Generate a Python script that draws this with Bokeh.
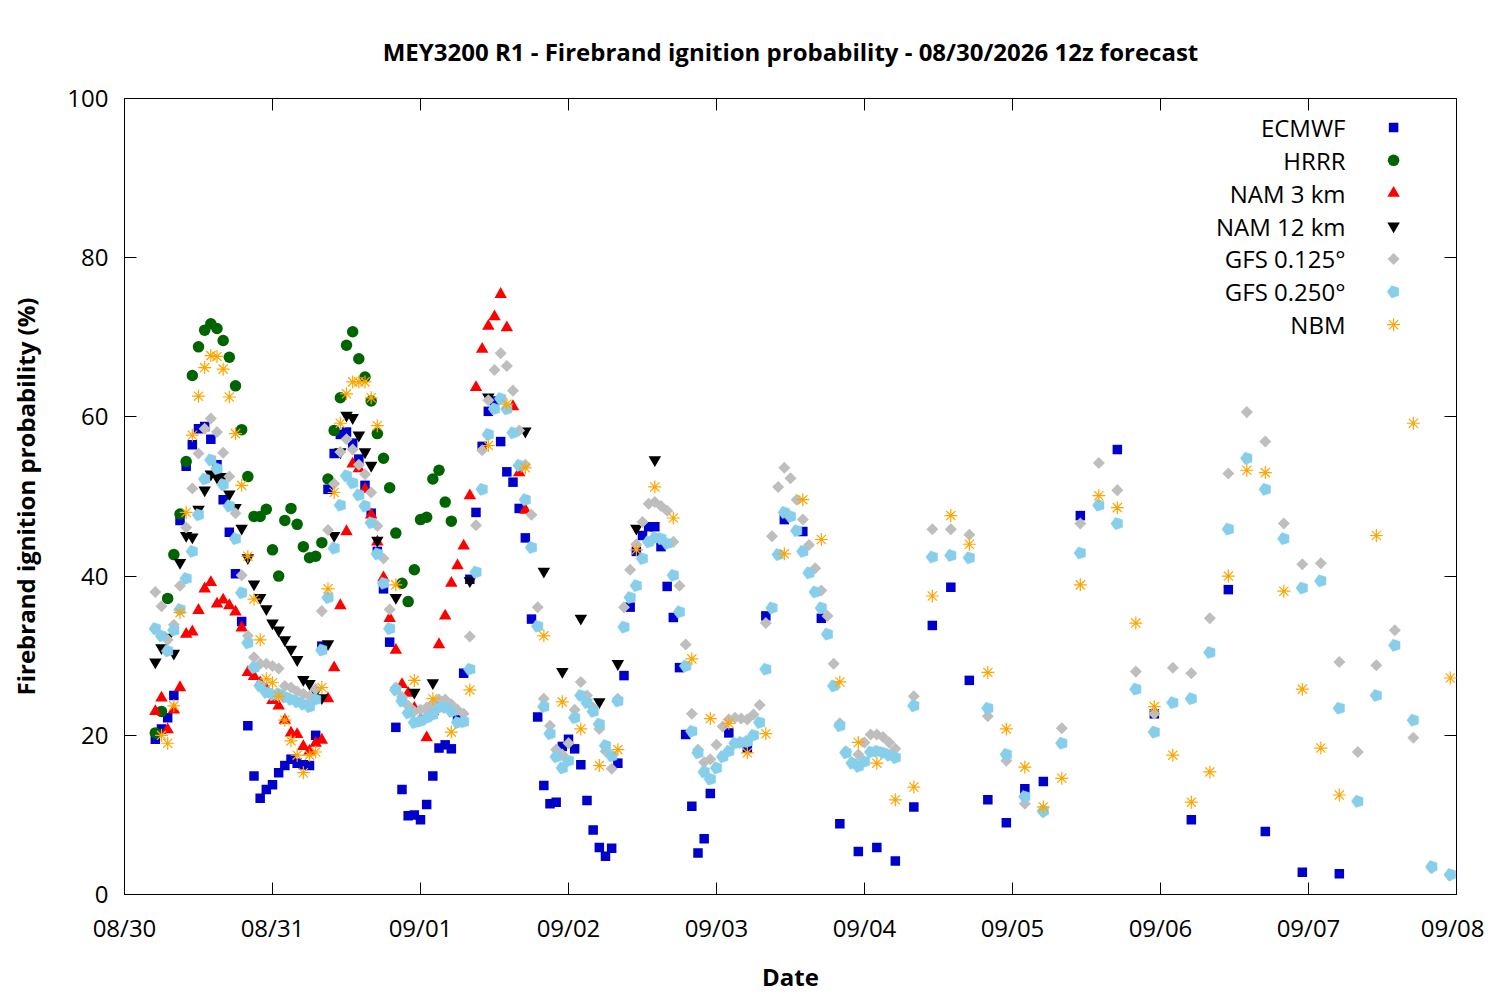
import numpy as np
from bokeh.plotting import figure
from bokeh.models import Range1d, FixedTicker, LinearAxis
from bokeh.core.properties import value
from bokeh.embed import file_html
from bokeh.resources import INLINE

# ---------------- data (x = hours after 08/30 00:00 local) ----------------
day_ticks = [0, 24, 48, 72, 96, 120, 144, 168, 192, 216]
day_labels = ["08/30", "08/31", "09/01", "09/02", "09/03", "09/04", "09/05", "09/06", "09/07", "09/08"]
y_ticks = [0, 20, 40, 60, 80, 100]

# ECMWF: hourly h5..h95, 3-hourly h98..h149, 6-hourly h155..h197
ecmwf_hours = list(range(5, 96)) + list(range(98, 150, 3)) + list(range(155, 198, 6))
ecmwf_vals = [19.5, 20.8, 22.2, 25, 47, 53.8, 56.5, 58.5, 58.8, 57.2, 54, 49.6, 45.5, 40.3, 34.3, 21.2, 14.9, 12.1, 13.2, 13.8,
              15.3, 16.2, 17, 16.5, 16.3, 16.2, 20, 31.2, 50.9, 55.4, 57.8, 58.1, 56.7, 54.7, 51.4, 47.9, 43.1, 38.4, 31.7, 21,
              13.2, 9.9, 10, 9.4, 11.3, 14.9, 18.4, 18.8, 18.3, 22, 27.8, 39.6, 48, 56.3, 60.7, 62, 56.9, 53.1, 51.8, 48.5,
              44.8, 34.6, 22.3, 13.7, 11.4, 11.6, 18.6, 19.5, 18.3, 16.3, 11.8, 8.1, 5.9, 4.8, 5.8, 16.5, 27.5, 36.1, 43.1, 45.1,
              46.2, 46.2, 43.7, 38.7, 34.8, 28.5, 20.1, 11.1, 5.2, 7, 12.7,
              20.3, 18.4, 35, 47.1, 45.6, 34.7, 8.9, 5.4, 5.9, 4.2, 11, 33.8, 38.6, 26.9, 11.9, 9, 13.3, 14.2,
              47.6, 55.9, 22.7, 9.4, 38.3, 7.9, 2.8, 2.6]

# HRRR: hourly h5..h53
hrrr_hours = list(range(5, 54))
hrrr_vals = [20.3, 23, 37.2, 42.7, 47.8, 54.4, 65.2, 68.8, 70.9, 71.7, 71.1, 69.6, 67.5, 63.9, 58.4, 52.5, 47.5, 47.5, 48.4, 43.3,
             40, 47, 48.5, 46.5, 43.7, 42.3, 42.5, 44.2, 52.2, 58.3, 62.4, 69, 70.7, 67.3, 65, 62, 57.9, 54.8, 51.1, 45.4,
             39.1, 36.8, 40.8, 47.1, 47.4, 52.2, 53.3, 49.3, 46.9]

# NAM 3 km: hourly h5..h65
nam3_hours = list(range(5, 66))
nam3_vals = [23, 24.7, 20.7, 23.2, 26, 32.7, 33, 35.7, 38.4, 39.2, 36.5, 37, 36.3, 35.5, 33.5, 27.9, 27.4, 26.6, 25.8, 24.4,
             23.7, 21.9, 20.3, 20.1, 18.6, 18, 19, 19.4, 24.6, 28.5, 36.3, 45.6, 54.1, 53.5, 50.9, 47.7, 44.3, 39.8, 34.7, 30.7,
             26.4, 25.3, 23.4, 22, 19.7, 23, 31.4, 35, 39.1, 41.3, 43.8, 50.1, 63.7, 68.5, 71.4, 72.6, 75.4, 71.2, 61.3, 53,
             48.3]

# NAM 12 km: hourly h5..h41, then 3-hourly
nam12_hours = list(range(5, 42)) + [44, 47, 50, 56, 59, 65, 68, 71, 74, 77, 80, 83, 86]
nam12_vals = [29.2, 31, 32.3, 30.3, 41.7, 45.1, 44.9, 48.4, 50.8, 52.8, 52.4, 52.5, 50.3, 48.6, 46, 42.3, 39, 37.3, 35.9, 34.1,
              33.2, 32, 30.8, 29.5, 27, 26.5, 25.5, 24.7, 31.5, 45.1, 55.6, 60.2, 59.9, 57.7, 55.6, 53.9, 44.5,
              37.3, 25.4, 26.6, 39.4, 62.5, 58.2, 40.6, 28, 34.7, 24.2, 29, 46, 54.6]

# GFS 0.125: hourly h5..h125, then 3-hourly h128..h215
gfs125_hours = list(range(5, 126)) + list(range(128, 216, 3))
gfs125_vals = [38, 36.2, 32, 33.9, 38.8, 46.1, 51, 55.4, 58.5, 59.8, 58.1, 55.5, 52.5, 47.9, 40.1, 32.5, 29.8, 29, 29, 28.7,
               28.4, 26.2, 26, 25.5, 25.2, 24.9, 25.8, 35.6, 45.8, 51.6, 55.6, 57.2, 55.9, 54, 52.8, 50.5, 46.3, 42.2, 35.8, 26,
               24.8, 23.7, 23, 23.2, 23.5, 23.9, 24.5, 24.5, 23.9, 23.2, 22.7, 32.4, 46.4, 55.8, 62.1, 65.9, 68, 66.4, 63.3, 58.3,
               54, 47.7, 36.1, 24.6, 21.2, 18.2, 17.6, 19, 23.2, 26.7, 25, 23.5, 20.8, 18, 15.8, 24.6, 36.1, 40.8, 44, 46.8,
               49.1, 49.3, 48.8, 48.2, 44.3, 38.8, 31.4, 22.7, 18.2, 16.6, 17, 18.8, 21.1, 22, 22.2, 22.1, 22, 22.6, 23.8, 34.1,
               45, 51.2, 53.6, 52.3, 49.6, 47.1, 43.9, 41, 38.2, 35, 29, 21.5, 18, 16.6, 17.6, 19.1, 20.1, 20.1, 19.8, 19.1,
               18.3,
               24.9, 45.9, 45.9, 45.2, 22.4, 16.8, 11.4, 10.3, 20.9, 46.6, 54.2, 50.8, 28, 22.7, 28.5, 27.8, 34.7, 52.9, 60.6, 56.9,
               46.6, 41.5, 41.6, 29.2, 17.9, 28.8, 33.2, 19.7, 3.3, 2.4]

# GFS 0.250: hourly h5..h125, then 3-hourly h128..h215
gfs250_hours = list(range(5, 126)) + list(range(128, 216, 3))
gfs250_vals = [33.4, 32.5, 30.6, 33.2, 35.8, 39.7, 43.1, 47.7, 52.2, 54.6, 53.5, 51.5, 48.8, 44.7, 37.9, 31.6, 28.5, 26.2, 25.4, 25.1,
               25.2, 24.8, 24.5, 24.2, 23.9, 23.6, 24.5, 30.7, 37.3, 43.5, 48.9, 52.6, 51.7, 50.2, 48.8, 46.7, 42.8, 39.1, 33.4, 25.7,
               24.3, 22.8, 21.6, 21.8, 22.2, 22.6, 23.5, 23.5, 23, 21.6, 21.7, 28.3, 40.5, 50.9, 57.8, 61, 62.3, 61, 58, 53.9,
               49.6, 43.6, 33.7, 23.6, 20.2, 17.3, 15.9, 16.8, 22.2, 25, 24.1, 23, 21.4, 18.7, 17.4, 24.3, 33.6, 37.3, 38.8, 42.2,
               44.3, 44.8, 44.7, 44.1, 40.1, 35.5, 28.7, 20.5, 17.8, 15.4, 14.5, 15.9, 17.3, 18, 19, 19.1, 19.2, 20, 21.6, 28.3,
               36, 42.7, 48, 47.5, 45.7, 43.1, 40.4, 38, 36, 32.7, 26.2, 21.2, 17.8, 16.5, 16.1, 16.7, 17.9, 18, 17.8, 17.5,
               17.2,
               23.7, 42.4, 42.6, 42.3, 23.4, 17.6, 12.3, 10.5, 19, 42.9, 48.9, 46.6, 25.8, 20.4, 24.1, 24.6, 30.4, 45.9, 54.8, 50.9,
               44.7, 38.5, 39.4, 23.4, 11.7, 25, 31.3, 21.9, 3.5, 2.5]

# NBM: hourly h6..h41, 3-hourly h44..h197, 6-hourly h203..h215
nbm_hours = list(range(6, 42)) + list(range(44, 198, 3)) + [203, 209, 215]
nbm_vals = [20, 19, 23.7, 35.4, 48, 57.7, 62.6, 66.2, 67.7, 67.6, 66, 62.5, 57.9, 51.4, 42.5, 37.1, 32, 27.1, 26.6, 24.9,
            21.9, 19.3, 17.5, 15.3, 17.5, 17.9, 26, 38.4, 50.5, 59.2, 62.9, 64.4, 64.4, 64.4, 62.4, 58.9,
            38.9, 26.9, 24.6, 20.4, 25.7, 56.4, 61.6, 53.6, 32.5, 24.2, 20.8, 16.2, 18.2, 43.3, 51.2, 47.3, 29.6, 22.1, 21.5, 17.8,
            20.2, 42.8, 49.6, 44.6, 26.7, 19.1, 16.5, 11.9, 13.5, 37.5, 47.6, 44, 27.9, 20.8, 16, 11, 14.6, 38.9, 50.1, 48.6,
            34.1, 23.6, 17.5, 11.6, 15.4, 40, 53.3, 53, 38.1, 25.8, 18.4, 12.5,
            45.1, 59.2, 27.2]

series_names = ["ECMWF", "HRRR", "NAM 3 km", "NAM 12 km", "GFS 0.125°", "GFS 0.250°", "NBM"]

# ---------------- styling ----------------
FONT = "Open Sans"
FS = "24px"
C_EC, C_HR, C_N3, C_N12 = "#0000cd", "#006400", "#ff0000", "#000000"
C_G1, C_G2, C_NBM = "#bebebe", "#87ceeb", "#ffa500"

p = figure(output_backend="svg", toolbar_location=None,
           frame_width=1332, frame_height=796,
           x_range=Range1d(0, 216), y_range=Range1d(0, 100),
           min_border_left=124, min_border_right=28, min_border_top=98, min_border_bottom=90,
           title="MEY3200 R1 - Firebrand ignition probability - 08/30/2026 12z forecast")
p.title.align = "center"
p.title.text_font = FONT
p.title.text_font_size = FS
p.title.text_font_style = "bold"
p.title.text_color = "black"
p.title.standoff = 62

p.grid.visible = False
p.outline_line_color = "black"
p.outline_line_width = 1
p.background_fill_color = "white"
p.border_fill_color = "white"

xt = FixedTicker(ticks=day_ticks)
yt = FixedTicker(ticks=y_ticks)
p.xaxis.ticker = xt
p.yaxis.ticker = yt
p.xaxis.major_label_overrides = {t: l for t, l in zip(day_ticks, day_labels)}
for ax in (p.xaxis[0], p.yaxis[0]):
    ax.major_tick_in = 12
    ax.major_tick_out = 0
    ax.minor_tick_line_color = None
    ax.major_label_text_font = FONT
    ax.major_label_text_font_size = FS
    ax.major_label_text_color = "black"
    ax.axis_label_text_font = FONT
    ax.axis_label_text_font_size = FS
    ax.axis_label_text_font_style = "bold"
    ax.axis_label_text_color = "black"
p.xaxis.axis_label = "Date"
p.yaxis.axis_label = "Firebrand ignition probability (%)"
p.xaxis.major_label_standoff = 16
p.yaxis.major_label_standoff = 16
p.xaxis.axis_label_standoff = 13
p.yaxis.axis_label_standoff = 22

# mirror ticks (gnuplot style) on top and right
for loc, tk in (("right", yt), ("above", xt)):
    ax = LinearAxis(ticker=tk, major_tick_in=12, major_tick_out=0, minor_tick_line_color=None,
                    axis_line_color=None, major_label_text_font_size="0px", major_label_standoff=0)
    ax.major_label_overrides = {t: "" for t in tk.ticks}
    p.add_layout(ax, loc)


def pentagons(xs, ys, color):
    try:
        p.ngon(x=xs, y=ys, radius=6.4, n=5, radius_units="screen", angle=np.pi / 2,
               fill_color=color, line_color=color, line_width=0.5)
    except Exception:
        p.scatter(x=xs, y=ys, marker="hex", size=11, fill_color=color, line_color=None)


# data series
p.scatter(ecmwf_hours, ecmwf_vals, marker="square", size=9.5, fill_color=C_EC, line_color=None)
p.scatter(hrrr_hours, hrrr_vals, marker="circle", size=11.5, fill_color=C_HR, line_color=None)
p.scatter(nam3_hours, nam3_vals, marker="triangle", size=12.5, fill_color=C_N3, line_color=None)
p.scatter(nam12_hours, nam12_vals, marker="inverted_triangle", size=12.5, fill_color=C_N12, line_color=None)
p.scatter(gfs125_hours, gfs125_vals, marker="square", angle=np.pi / 4, size=8.5, fill_color=C_G1, line_color=None)
pentagons(gfs250_hours, gfs250_vals, C_G2)
p.scatter(nbm_hours, nbm_vals, marker="asterisk", size=13, line_color=C_NBM, line_width=1.2)

# legend (gnuplot style: label on the left, symbol on the right)
leg_text_x = 198.0
leg_mark_x = 205.8
leg_rows = [96.36 - 4.13 * i for i in range(len(series_names))]
p.text(x=[leg_text_x] * len(series_names), y=leg_rows, text=series_names, text_align="right",
       text_baseline="middle", text_font=value(FONT), text_font_size=FS, text_color="black")
p.scatter([leg_mark_x], [leg_rows[0]], marker="square", size=9.5, fill_color=C_EC, line_color=None)
p.scatter([leg_mark_x], [leg_rows[1]], marker="circle", size=11.5, fill_color=C_HR, line_color=None)
p.scatter([leg_mark_x], [leg_rows[2]], marker="triangle", size=12.5, fill_color=C_N3, line_color=None)
p.scatter([leg_mark_x], [leg_rows[3]], marker="inverted_triangle", size=12.5, fill_color=C_N12, line_color=None)
p.scatter([leg_mark_x], [leg_rows[4]], marker="square", angle=np.pi / 4, size=8.5, fill_color=C_G1, line_color=None)
pentagons([leg_mark_x], [leg_rows[5]], C_G2)
p.scatter([leg_mark_x], [leg_rows[6]], marker="asterisk", size=13, line_color=C_NBM, line_width=1.2)

open("out.html", "w").write(file_html(p, INLINE))
